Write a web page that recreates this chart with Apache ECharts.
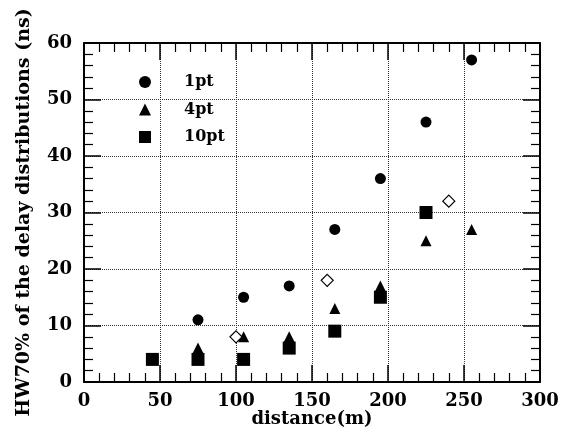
<!DOCTYPE html>
<html>
<head>
<meta charset="utf-8">
<script src="https://cdn.jsdelivr.net/npm/echarts@6/dist/echarts.min.js"></script>
<style>
  html, body { margin: 0; padding: 0; background: #fff; }
  #chart { width: 575px; height: 443px; }
</style>
</head>
<body>
<div id="chart"></div>
<script>
// distance (m) and HW70% (ns)
const dist1pt = [75, 105, 135, 165, 195, 225, 255];
const hw1pt = [11, 15, 17, 27, 36, 46, 57];
const dist4pt = [75, 105, 135, 165, 195, 225, 255];
const hw4pt = [6, 8, 8, 13, 17, 25, 27];
const dist10pt = [45, 75, 105, 135, 165, 195, 225];
const hw10pt = [4, 4, 4, 6, 9, 15, 30];
// open diamonds (no legend entry)
const distOpen = [100, 160, 240];
const hwOpen = [8, 18, 32];

const legendNames = ['1pt', '4pt', '10pt'];

function pairs(xs, ys) {
  return xs.map(function (x, i) { return [x, ys[i]]; });
}

const font = 'DejaVu Serif';
const black = '#000';

function axisCommon(showLabel) {
  return {
    axisLine: { show: true, onZero: false, lineStyle: { color: black, width: 2 } },
    axisTick: { show: true, inside: true, length: 17, lineStyle: { color: black, width: 1.5 } },
    minorTick: { show: true, splitNumber: 5, length: 9, lineStyle: { color: black, width: 1.2 } },
    axisLabel: {
      show: showLabel,
      color: black,
      fontFamily: font,
      fontWeight: 'bold',
      fontSize: 18
    }
  };
}

const chart = echarts.init(document.getElementById('chart'), null, { renderer: 'canvas' });

const xBottom = Object.assign(axisCommon(true), {
  type: 'value', position: 'bottom', min: 0, max: 300, interval: 50,
  name: 'distance(m)', nameLocation: 'middle', nameGap: 28, nameMoveOverlap: false,
  nameTextStyle: { color: black, fontFamily: font, fontWeight: 'bold', fontSize: 18 },
  splitLine: { show: true, lineStyle: { color: '#333', type: 'dotted', width: 1 } }
});
xBottom.axisLabel.margin = 10;

const xTop = Object.assign(axisCommon(false), {
  type: 'value', position: 'top', min: 0, max: 300, interval: 50,
  splitLine: { show: false }
});

const yLeft = Object.assign(axisCommon(true), {
  type: 'value', position: 'left', min: 0, max: 60, interval: 10,
  name: 'HW70% of the delay distributions (ns)', nameLocation: 'middle', nameGap: 50,
  nameMoveOverlap: false,
  nameTextStyle: { color: black, fontFamily: font, fontWeight: 'bold', fontSize: 19 },
  splitLine: { show: true, lineStyle: { color: '#333', type: 'dotted', width: 1 } }
});
yLeft.axisLabel.margin = 12;

const yRight = Object.assign(axisCommon(false), {
  type: 'value', position: 'right', min: 0, max: 60, interval: 10,
  splitLine: { show: false }
});

const option = {
  backgroundColor: '#fff',
  animation: false,
  grid: { left: 84, right: 35, top: 43, bottom: 61, containLabel: false },
  legend: {
    data: legendNames,
    orient: 'vertical',
    left: 134,
    top: 69,
    itemWidth: 12,
    itemHeight: 12,
    itemGap: 11.5,
    textStyle: {
      color: black, fontFamily: font, fontWeight: 'bold', fontSize: 16,
      padding: [0, 0, 0, 28]
    }
  },
  xAxis: [xBottom, xTop],
  yAxis: [yLeft, yRight],
  series: [
    {
      name: '1pt', type: 'scatter', symbol: 'circle', symbolSize: 11,
      itemStyle: { color: black, opacity: 1 },
      data: pairs(dist1pt, hw1pt)
    },
    {
      name: '4pt', type: 'scatter', symbol: 'triangle', symbolSize: 11,
      itemStyle: { color: black, opacity: 1 },
      data: pairs(dist4pt, hw4pt)
    },
    {
      name: '10pt', type: 'scatter', symbol: 'rect', symbolSize: 13,
      itemStyle: { color: black, opacity: 1 },
      data: pairs(dist10pt, hw10pt)
    },
    {
      name: 'open', type: 'scatter', symbol: 'diamond', symbolSize: 12,
      itemStyle: { color: '#fff', borderColor: black, borderWidth: 1.2, opacity: 1 },
      data: pairs(distOpen, hwOpen)
    }
  ]
};

chart.setOption(option);
</script>
</body>
</html>
